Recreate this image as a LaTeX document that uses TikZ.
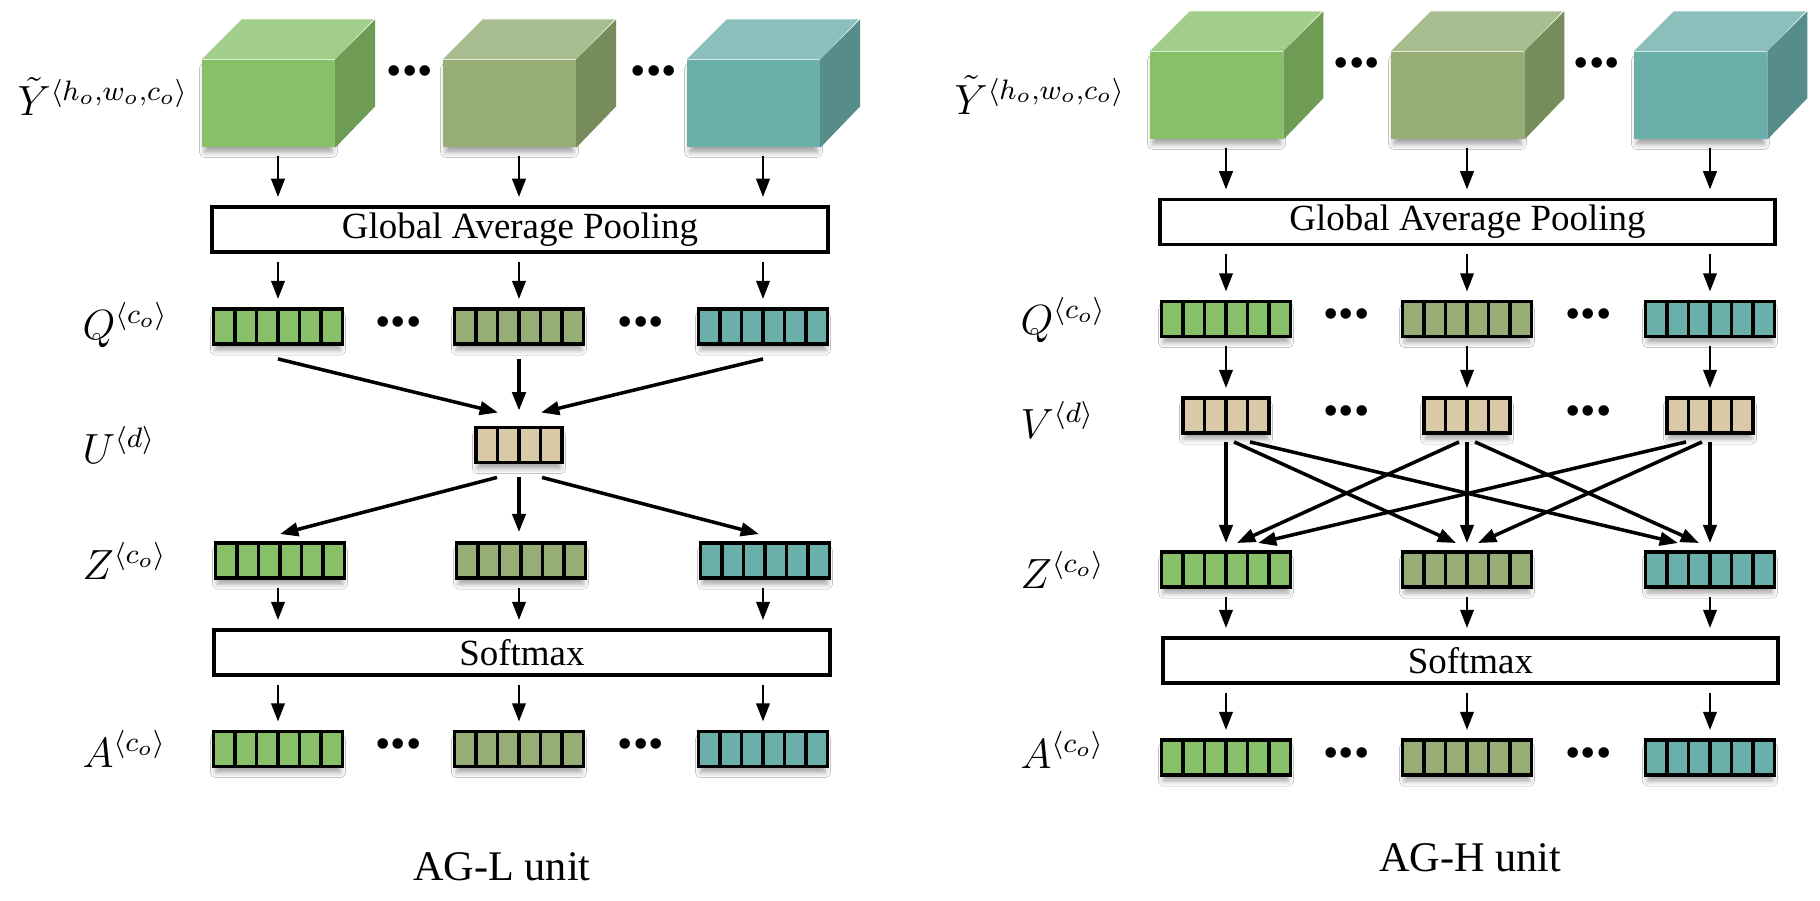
\documentclass[tikz,border=0pt]{standalone}
\usepackage{fontspec}
\setmainfont{Liberation Serif}
\usetikzlibrary{arrows.meta,calc,shadows.blur}

\definecolor{gA}{HTML}{88C06A}
\definecolor{gAtop}{HTML}{A2CD8B}
\definecolor{gAside}{HTML}{6E9C55}
\definecolor{gB}{HTML}{96AE76}
\definecolor{gBtop}{HTML}{A9BE90}
\definecolor{gBside}{HTML}{778C5B}
\definecolor{gC}{HTML}{6AAFAA}
\definecolor{gCtop}{HTML}{8ABFBC}
\definecolor{gCside}{HTML}{568D8A}
\definecolor{beige}{HTML}{D9C9A7}

\tikzset{
  arr/.style={-{Triangle[length=5.2pt,width=3.8pt]},line width=.8pt},
  vert/.style={arr,shorten <=.08cm,shorten >=.08cm},
  fan/.style={arr,line width=1pt},
  softshadow/.style={blur shadow={shadow xshift=0pt,shadow yshift=-.07cm,shadow scale=.97,shadow blur radius=.05cm,shadow opacity=35}},
  cells/.style={draw,line width=1.1pt,minimum height=.35cm,inner sep=0pt,softshadow,
    path picture={\foreach \k in {1,...,#1}
      \draw[line width=1.1pt] ($(path picture bounding box.south west)!{\k/#1}!(path picture bounding box.south east)$)
        -- ($(path picture bounding box.north west)!{\k/#1}!(path picture bounding box.north east)$);}},
  longvec/.style={cells=6,minimum width=1.29cm},
  shortvec/.style={cells=4,minimum width=.86cm,fill=beige},
  stage/.style={draw,line width=1.1pt,minimum width=6.15cm,minimum height=.45cm,inner sep=0pt,font=\fontsize{10.5}{12}\selectfont},
  lab/.style={anchor=west,inner sep=0pt,font=\fontsize{12}{14}\selectfont},
  ellip/.style={inner sep=0pt,font=\fontsize{12.5}{13}\selectfont},
  unitname/.style={font=\fontsize{12}{14}\selectfont}
}

% feature cube: name, x, y, colour family
\newcommand{\featcube}[4]{%
  \node[fill=g#4,minimum width=1.32cm,minimum height=.87cm,inner sep=0pt,softshadow] (#1) at (#2,#3) {};
  \fill[g#4top] (#1.north west) -- ++(40,-40) -- ++(132,0) -- (#1.north east) -- cycle;
  \fill[g#4side] (#1.north east) -- ++(40,-40) -- ++(0,87) -- (#1.south east) -- cycle;}

\begin{document}
\begin{tikzpicture}[x=.01cm,y=-.01cm]
  \fill[white] (0,0) rectangle (1820,901);
  \useasboundingbox (0,0) rectangle (1820,901);

  % AG-L unit
  \foreach \i/\x/\c in {1/278/A,2/519/B,3/763/C}{
    \featcube{lc\i}{\x-9.5}{103.5}{\c}
    \node[longvec,fill=g\c] (lq\i) at (\x,326.5) {};
    \node[longvec,fill=g\c] (lz\i) at (\x+2,560.5) {};
    \node[longvec,fill=g\c] (la\i) at (\x,749) {};
  }
  \node[stage] (lgap) at (520,229.5) {Global Average Pooling};
  \node[shortvec] (lu) at (519,445) {};
  \node[stage] (lsm) at (522,652.5) {Softmax};

  \node[lab] (lly) at (17,96.5) {$\tilde{Y}^{\langle h_o,w_o,c_o\rangle}$};
  \node[lab] (llq) at (82,325) {$Q^{\langle c_o\rangle}$};
  \node[lab] (llu) at (82,445) {$U^{\langle d\rangle}$};
  \node[lab] (llz) at (82,561) {$Z^{\langle c_o\rangle}$};
  \node[lab] (lla) at (82,749) {$A^{\langle c_o\rangle}$};

  \node[ellip] (lcd1) at (410,76) {•••};
  \node[ellip] (lcd2) at (654,76) {•••};
  \node[ellip] (lqd1) at ($(lq1.east)!.5!(lq2.west)$) {•••};
  \node[ellip] (lqd2) at ($(lq2.east)!.5!(lq3.west)$) {•••};
  \node[ellip] (lad1) at ($(la1.east)!.5!(la2.west)$) {•••};
  \node[ellip] (lad2) at ($(la2.east)!.5!(la3.west)$) {•••};

  \foreach \i in {1,2,3}{
    \draw[vert] (lc\i.south -| lq\i) -- (lgap.north -| lq\i);
    \draw[vert] (lgap.south -| lq\i) -- (lq\i);
    \draw[vert] (lz\i.south -| la\i) -- (lsm.north -| la\i);
    \draw[vert] (lsm.south -| la\i) -- (la\i);
  }
  \draw[fan] ([yshift=-.13cm]lq1.south) -- ([xshift=-.21cm,yshift=.13cm]lu.north);
  \draw[fan,shorten <=.13cm,shorten >=.15cm] (lq2.south) -- (lu.north);
  \draw[fan] ([yshift=-.13cm]lq3.south) -- ([xshift=.22cm,yshift=.13cm]lu.north);
  \draw[fan] ([xshift=-.22cm,yshift=-.13cm]lu.south) -- ([yshift=.07cm]lz1.north);
  \draw[fan,shorten <=.13cm,shorten >=.09cm] (lu.south) -- (lu.south |- lz2.north);
  \draw[fan] ([xshift=.23cm,yshift=-.13cm]lu.south) -- ([xshift=-.06cm,yshift=.07cm]lz3.north);

  \node[unitname] (lcap) at (502,867) {AG-L unit};

  % AG-H unit
  \foreach \i/\x/\c in {1/1226/A,2/1467/B,3/1710/C}{
    \featcube{rc\i}{\x-9.5}{95.5}{\c}
    \node[longvec,fill=g\c] (rq\i) at (\x,319) {};
    \node[shortvec] (rv\i) at (\x,415.5) {};
    \node[longvec,fill=g\c] (rz\i) at (\x,569.5) {};
    \node[longvec,fill=g\c] (ra\i) at (\x,757.5) {};
  }
  \node[stage] (rgap) at (1467.5,222) {Global Average Pooling};
  \node[stage] (rsm) at (1470.5,660.5) {Softmax};

  \node[lab] (rly) at (954,95) {$\tilde{Y}^{\langle h_o,w_o,c_o\rangle}$};
  \node[lab] (rlq) at (1020,320) {$Q^{\langle c_o\rangle}$};
  \node[lab] (rlv) at (1020,420) {$V^{\langle d\rangle}$};
  \node[lab] (rlz) at (1020,570) {$Z^{\langle c_o\rangle}$};
  \node[lab] (rla) at (1020,750) {$A^{\langle c_o\rangle}$};

  \node[ellip] (rcd1) at (1357,68) {•••};
  \node[ellip] (rcd2) at (1597,68) {•••};
  \node[ellip] (rqd1) at ($(rq1.east)!.5!(rq2.west)$) {•••};
  \node[ellip] (rqd2) at ($(rq2.east)!.5!(rq3.west)$) {•••};
  \node[ellip] (rvd1) at ($(rv1.east)!.5!(rv2.west)$) {•••};
  \node[ellip] (rvd2) at ($(rv2.east)!.5!(rv3.west)$) {•••};
  \node[ellip] (rad1) at ($(ra1.east)!.5!(ra2.west)$) {•••};
  \node[ellip] (rad2) at ($(ra2.east)!.5!(ra3.west)$) {•••};

  \foreach \i in {1,2,3}{
    \draw[vert] (rc\i.south -| rq\i) -- (rgap.north -| rq\i);
    \draw[vert] (rgap.south -| rq\i) -- (rq\i);
    \draw[vert] (rq\i) -- (rv\i);
    \draw[vert] (rz\i) -- (rsm.north -| rz\i);
    \draw[vert] (rsm.south -| ra\i) -- (ra\i);
    \foreach \j in {1,2,3}{
      \pgfmathsetmacro\sx{.04*(\j-\i)*(abs(\j-\i)+1)}
      \pgfmathsetmacro\ex{-.01*(\j-\i)*(5*abs(\j-\i)+6)}
      \draw[fan] ([xshift=\sx cm,yshift=-.07cm]rv\i.south) -- ([xshift=\ex cm,yshift=.07cm]rz\j.north);
    }
  }

  \node[unitname] (rcap) at (1470,858) {AG-H unit};
\end{tikzpicture}
\end{document}
